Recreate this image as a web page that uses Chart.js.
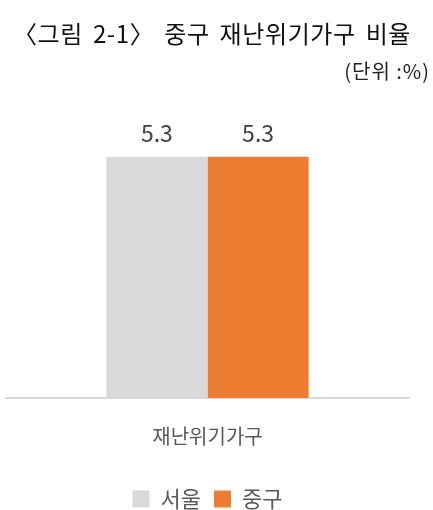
<!DOCTYPE html>
<html><head><meta charset="utf-8">
<script src="https://cdn.jsdelivr.net/npm/chart.js@4"></script>
<style>
html,body{margin:0;padding:0;background:#fff;}
#wrap{position:relative;width:433px;height:510px;overflow:hidden;}
#title{position:absolute;left:13px;top:18px;font:400 24px "Noto Sans CJK KR";color:#111;line-height:30px;white-space:nowrap;letter-spacing:0.6px;word-spacing:4px;}
#unit{position:absolute;right:3px;top:57px;font:400 20px "Noto Sans CJK KR";color:#222;line-height:28px;white-space:nowrap;letter-spacing:1px;}
canvas{position:absolute;left:0;top:0;}
</style></head>
<body><div id="wrap"><canvas id="c" width="433" height="510"></canvas><div id="title">〈그림 2-1〉 중구 재난위기가구 비율</div><div id="unit">(단위 :%)</div></div>
<script>
const categories = ['재난위기가구'];
const seriesNames = ['서울', '중구'];
const seoulValues = [5.3];
const jungguValues = [5.3];
const seriesColors = ['#d9d9d9', '#ed7d31'];

const valueLabels = {
  id: 'valueLabels',
  afterDatasetsDraw(chart) {
    const ctx = chart.ctx;
    ctx.save();
    ctx.font = '400 23px "Noto Sans CJK KR"';
    ctx.fillStyle = '#404040';
    ctx.textAlign = 'center';
    ctx.textBaseline = 'alphabetic';
    chart.data.datasets.forEach((ds, i) => {
      chart.getDatasetMeta(i).data.forEach((bar, j) => {
        ctx.fillText(ds.data[j].toFixed(1), bar.x, bar.y - 15);
      });
    });
    ctx.restore();
  }
};

new Chart(document.getElementById('c'), {
  type: 'bar',
  data: {
    labels: categories,
    datasets: [
      { label: seriesNames[0], data: seoulValues, backgroundColor: seriesColors[0], borderWidth: 0, categoryPercentage: 0.502, barPercentage: 1 },
      { label: seriesNames[1], data: jungguValues, backgroundColor: seriesColors[1], borderWidth: 0, categoryPercentage: 0.502, barPercentage: 1 }
    ]
  },
  options: {
    responsive: false,
    devicePixelRatio: 1,
    animation: false,
    layout: { padding: { left: 6, right: 24, top: 125, bottom: -10 } },
    plugins: {
      legend: {
        position: 'bottom',
        labels: {
          boxWidth: 17, boxHeight: 17, padding: 13,
          color: '#595959',
          font: { family: '"Noto Sans CJK KR"', size: 22 }
        }
      },
      tooltip: { enabled: false },
      title: { display: false }
    },
    scales: {
      y: { display: false, min: 0, max: 6 },
      x: {
        grid: { display: false, drawTicks: false, tickLength: 0 },
        border: { display: true, color: '#d9d9d9', width: 2 },
        ticks: { color: '#595959', padding: 26, font: { family: '"Noto Sans CJK KR"', size: 20 } },
        afterFit(axis) { axis.height = 77; }
      }
    }
  },
  plugins: [valueLabels]
});
</script>
</body></html>
